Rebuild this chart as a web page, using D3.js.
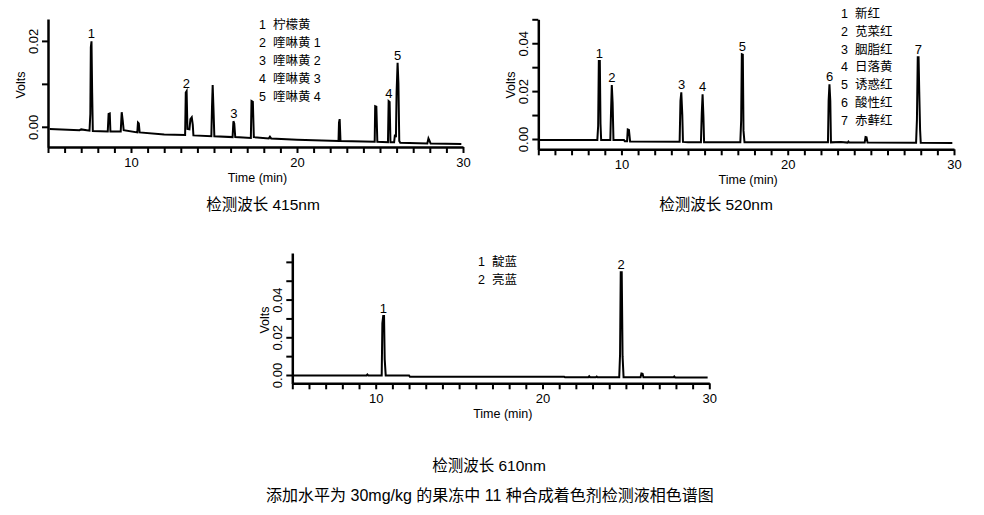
<!DOCTYPE html>
<html><head><meta charset="utf-8">
<script src="https://cdn.jsdelivr.net/npm/d3@7/dist/d3.min.js"></script>
<style>
body{margin:0;background:#fff;}
svg text{font-family:"Liberation Sans","Noto Sans CJK SC",sans-serif;fill:#000;}
</style></head><body>
<svg id="c" width="984" height="515"></svg>
<script>
// ---------- data ----------
const timeTicks = d3.range(5, 31, 1);
const timeTickLabels = [10, 20, 30];

// 415 nm trace: [time (min), volts]
const trace415 = [
 [5.1,-0.0005],[6.9,-0.0008],[7.0,-0.0006],[7.5,-0.0009],[7.55,0.003],[7.58,0.0185],[7.62,0.0199],[7.66,0.008],[7.7,-0.001],
 [8.6,-0.0011],[8.65,0.003],[8.72,0.0031],[8.76,-0.0011],[9.38,-0.0011],[9.44,0.0034],[9.5,0.0015],[9.56,-0.0008],
 [10.38,-0.0013],[10.42,0.0010],[10.47,0.0008],[10.52,-0.0013],[12.0,-0.0018],[13.26,-0.0019],[13.3,0.008],[13.35,0.0083],[13.4,-0.0005],
 [13.52,-0.0006],[13.58,0.0018],[13.66,0.0022],[13.72,0.0005],[13.76,-0.002],[14.84,-0.0022],[14.88,0.0046],[14.92,0.0097],[14.97,0.004],[15.02,-0.0022],
 [16.12,-0.0024],[16.17,0.0013],[16.22,0.0008],[16.28,-0.0024],[17.22,-0.0026],[17.26,0.006],[17.34,0.0058],[17.4,-0.0024],
 [18.3,-0.0027],[18.37,-0.0023],[18.44,-0.0027],[20,-0.003],[22.5,-0.0033],[22.53,0.001],[22.57,0.0018],[22.62,-0.0033],
 [24.68,-0.0035],[24.71,0.0048],[24.78,0.0047],[24.84,-0.0035],[25.48,-0.0036],[25.52,0.006],[25.58,0.0058],[25.63,-0.0036],
 [25.85,-0.0036],[25.9,-0.0018],[25.96,-0.0024],[26.0,0.008],[26.06,0.0149],[26.11,0.0101],[26.16,-0.0033],[26.22,-0.0037],
 [27.85,-0.0039],[27.92,-0.0027],[27.98,-0.0032],[28.05,-0.0039],[29.9,-0.004]
];
const legend415 = ["1  柠檬黄","2  喹啉黄 1","3  喹啉黄 2","4  喹啉黄 3","5  喹啉黄 4"];
const peaks415 = [[7.62,0.0199,"1"],[13.33,0.0083,"2"],[16.19,0.0013,"3"],[25.54,0.006,"4"],[26.06,0.0149,"5"]];

// 520 nm trace
const trace520 = [
 [5.1,-0.0004],[8.55,-0.0004],[8.6,0.0055],[8.64,0.0326],[8.7,0.0326],[8.74,0.0065],[8.78,-0.0004],
 [9.33,-0.0004],[9.37,0.0103],[9.42,0.0225],[9.47,0.015],[9.52,-0.0004],[10.15,-0.0004],[10.2,-0.0009],[10.34,-0.0009],[10.38,0.004],[10.45,0.0038],[10.52,-0.001],
 [13.5,-0.0011],[13.55,0.016],[13.6,0.0195],[13.66,0.010],[13.7,-0.0012],[14.0,-0.0014],[14.78,-0.0014],[14.83,0.0105],[14.88,0.0187],[14.93,0.0095],[14.97,-0.0014],
 [17.15,-0.0014],[17.2,0.0078],[17.24,0.0354],[17.3,0.0352],[17.34,0.0035],[17.4,-0.0014],
 [22.42,-0.0014],[22.46,0.016],[22.51,0.0229],[22.56,0.016],[22.6,-0.0014],[23.2,-0.0013],[23.6,-0.0015],[23.65,-0.0011],[23.7,-0.0015],
 [24.63,-0.0015],[24.68,0.0008],[24.74,0.0007],[24.8,-0.0015],[27.72,-0.0016],[27.77,0.0079],[27.82,0.0342],[27.87,0.0342],[27.91,0.0198],[27.96,0.004],[28.0,-0.0016],[29.9,-0.0017]
];
const legend520 = ["1  新红","2  苋菜红","3  胭脂红","4  日落黄","5  诱惑红","6  酸性红","7  赤藓红"];
const peaks520 = [[8.67,0.0326,"1"],[9.43,0.0225,"2"],[13.62,0.0195,"3"],[14.88,0.0187,"4"],[17.27,0.0354,"5"],[22.52,0.0229,"6"],[27.85,0.0342,"7"]];

// 610 nm trace
const trace610 = [
 [5.1,-0.0002],[9.45,-0.0002],[9.5,0.0003],[9.55,-0.0002],[10.36,-0.0002],[10.4,0.0274],[10.45,0.0313],[10.5,0.0313],[10.54,0.0083],[10.6,-0.0002],
 [12.0,-0.0002],[12.05,-0.0009],[21.3,-0.0009],[21.35,-0.0012],[22.75,-0.0012],[22.8,-0.0007],[22.85,-0.0012],[23.2,-0.0012],[23.25,-0.0008],[23.3,-0.0012],
 [24.6,-0.0012],[24.65,0.011],[24.69,0.0545],[24.75,0.0545],[24.8,0.010],[24.86,-0.0012],[25.88,-0.0012],[25.93,0.0008],[26.0,0.0006],[26.05,-0.0012],
 [27.85,-0.0012],[27.9,-0.0008],[27.95,-0.0013],[29.9,-0.0013]
];
const legend610 = ["1  靛蓝","2  亮蓝"];
const peaks610 = [[10.46,0.0313,"1"],[24.72,0.0545,"2"]];

const captions = ["检测波长 415nm","检测波长 520nm","检测波长 610nm"];
const figureTitle = "添加水平为 30mg/kg 的果冻中 11 种合成着色剂检测液相色谱图";

// ---------- drawing ----------
const svg = d3.select("#c");

function panel(cfg){
  const g = svg.append("g");
  const x = d3.scaleLinear().domain([5,30]).range([cfg.x0, cfg.x1]);
  const y = d3.scaleLinear().domain(cfg.yDom).range([cfg.yBot, cfg.yTop]);

  g.append("path").datum(cfg.trace)
    .attr("d", d3.line().x(d=>x(d[0])).y(d=>y(d[1])))
    .attr("fill","none").attr("stroke","#000").attr("stroke-width",2).attr("stroke-linejoin","miter");

  const xa = g.append("g").attr("transform",`translate(0,${cfg.yBot})`)
    .call(d3.axisBottom(x).tickValues(timeTicks).tickSize(6).tickSizeOuter(0)
      .tickFormat(d=> timeTickLabels.includes(d)? d : ""));
  xa.select(".domain").attr("stroke-width",2.5);
  xa.selectAll(".tick line").attr("stroke-width",2);
  xa.selectAll(".tick text").attr("font-size",13).attr("dy","0.9em").attr("y",8);

  const ya = g.append("g").attr("transform",`translate(${cfg.x0},0)`)
    .call(d3.axisLeft(y).tickValues(cfg.yTicks).tickSize(6).tickSizeOuter(0)
      .tickFormat(d=> cfg.yLabels.some(v=>Math.abs(v-d)<1e-9)? d3.format(".2f")(d) : ""));
  ya.select(".domain").attr("stroke-width",2.5);
  ya.selectAll(".tick line").attr("stroke-width",2);
  ya.selectAll(".tick text").attr("font-size",13)
    .attr("x",0).attr("dy",0).attr("text-anchor","middle")
    .attr("transform","translate(-10,0) rotate(-90)");

  g.append("text").attr("x",(cfg.x0+cfg.x1)/2+2).attr("y",cfg.yBot+35)
    .attr("text-anchor","middle").attr("font-size",12.5).text("Time (min)");
  g.append("text").attr("transform",`translate(${cfg.x0-23},${cfg.voltsY}) rotate(-90)`)
    .attr("text-anchor","middle").attr("font-size",12.5).text("Volts");

  g.selectAll(".pl").data(cfg.peaks).enter().append("text")
    .attr("x",d=>x(d[0])).attr("y",d=>y(d[1])-3)
    .attr("text-anchor","middle").attr("font-size",13).text(d=>d[2]);

  g.selectAll(".lg").data(cfg.legend).enter().append("text")
    .attr("x",cfg.lx).attr("y",(d,i)=>cfg.ly+i*17.9)
    .attr("font-size",12.5).attr("dominant-baseline","middle")
    .style("white-space","pre").attr("xml:space","preserve").text(d=>d);

  if(cfg.caption){
    svg.append("text").attr("x",cfg.cx).attr("y",cfg.cy)
      .attr("text-anchor","middle").attr("font-size",15.5).attr("dominant-baseline","middle").text(cfg.caption);
  }
}

panel({x0:48, x1:463, yBot:147, yTop:19, yDom:[-0.0047,0.0251],
  yTicks:[0,0.01,0.02], yLabels:[0,0.02], trace:trace415, peaks:peaks415, legend:legend415,
  lx:259, ly:26, voltsY:85, caption:captions[0], cx:263, cy:206});
panel({x0:538.3, x1:954, yBot:149.3, yTop:19.3, yDom:[-0.0043,0.050],
  yTicks:[0,0.01,0.02,0.03,0.04,0.05], yLabels:[0,0.02,0.04], trace:trace520, peaks:peaks520, legend:legend520,
  lx:841, ly:14.5, voltsY:85, caption:captions[1], cx:716, cy:206});
panel({x0:292.3, x1:709.3, yBot:383.3, yTop:253, yDom:[-0.0044,0.0647],
  yTicks:[0,0.01,0.02,0.03,0.04,0.05,0.06], yLabels:[0,0.02,0.04], trace:trace610, peaks:peaks610, legend:legend610,
  lx:478, ly:262.5, voltsY:320, caption:captions[2], cx:489, cy:467});

svg.append("text").attr("x",490).attr("y",497).attr("text-anchor","middle")
  .attr("font-size",16).attr("dominant-baseline","middle").text(figureTitle);
</script>
</body></html>
